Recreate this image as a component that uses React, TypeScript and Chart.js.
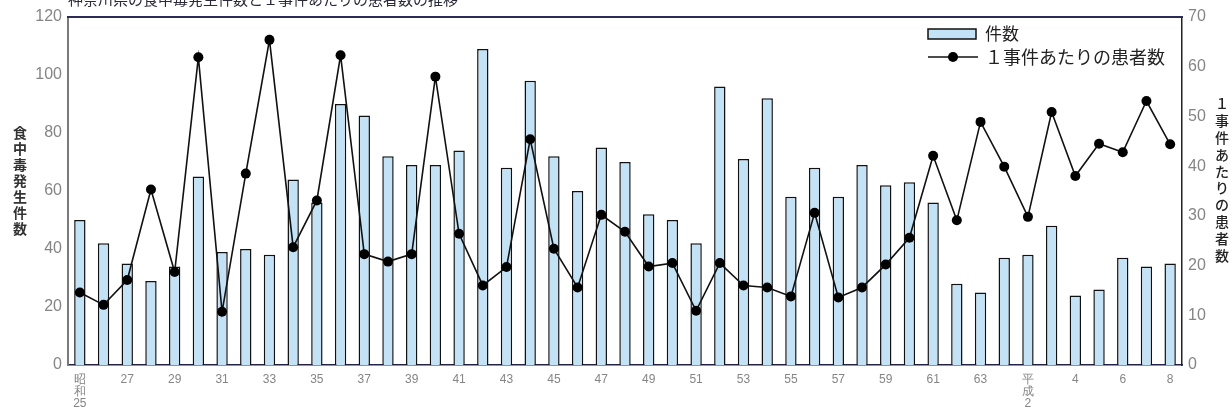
import React, { useEffect, useRef } from "react";
import { Chart, registerables } from "chart.js";

Chart.register(...registerables);

const categories = [
  "昭和25", "昭和26", "昭和27", "昭和28", "昭和29", "昭和30", "昭和31", "昭和32", "昭和33", "昭和34",
  "昭和35", "昭和36", "昭和37", "昭和38", "昭和39", "昭和40", "昭和41", "昭和42", "昭和43", "昭和44",
  "昭和45", "昭和46", "昭和47", "昭和48", "昭和49", "昭和50", "昭和51", "昭和52", "昭和53", "昭和54",
  "昭和55", "昭和56", "昭和57", "昭和58", "昭和59", "昭和60", "昭和61", "昭和62", "昭和63", "平成元",
  "平成2", "平成3", "平成4", "平成5", "平成6", "平成7", "平成8",
];

const tickLabels: (string | string[])[] = [
  ["昭", "和", "25"], "", "27", "", "29", "", "31", "", "33", "",
  "35", "", "37", "", "39", "", "41", "", "43", "",
  "45", "", "47", "", "49", "", "51", "", "53", "",
  "55", "", "57", "", "59", "", "61", "", "63", "",
  ["平", "成", "2"], "", "4", "", "6", "", "8",
];

const incidents = [
  50, 42, 35, 29, 34, 65, 39, 40, 38, 64,
  56, 90, 86, 72, 69, 69, 74, 109, 68, 98,
  72, 60, 75, 70, 52, 50, 42, 96, 71, 92,
  58, 68, 58, 69, 62, 63, 56, 28, 25, 37,
  38, 48, 24, 26, 37, 34, 35,
];

const patientsPerIncident = [
  14.6, 12.1, 17.1, 35.3, 18.7, 61.9, 10.7, 38.5, 65.4, 23.7,
  33.1, 62.3, 22.3, 20.8, 22.3, 58.0, 26.4, 16.0, 19.7, 45.4,
  23.4, 15.6, 30.2, 26.8, 19.8, 20.5, 10.9, 20.5, 16.0, 15.6,
  13.8, 30.6, 13.6, 15.6, 20.2, 25.6, 42.1, 29.1, 48.9, 39.9,
  29.8, 50.9, 38.0, 44.5, 42.8, 53.1, 44.4,
];

const TITLE = "神奈川県の食中毒発生件数と１事件あたりの患者数の推移";
const LEFT_AXIS_TITLE = "食中毒発生件数";
const RIGHT_AXIS_TITLE = "１事件あたりの患者数";
const BAR_LABEL = "件数";
const LINE_LABEL = "１事件あたりの患者数";

const BAR_FILL = "#c4e2f6";
const INK = "#111111";
const TICK_COLOR = "#858585";
const JP_FONT = "'Noto Sans CJK JP', 'Noto Sans', sans-serif";
const NUM_FONT = "'Liberation Sans', Arial, sans-serif";

const decorations = {
  id: "decorations",
  afterDraw(chart: any) {
    const { ctx, chartArea: a } = chart;
    ctx.save();

    // top frame line
    ctx.strokeStyle = "#2b2b55";
    ctx.lineWidth = 2;
    ctx.beginPath();
    ctx.moveTo(a.left - 1, a.top);
    ctx.lineTo(a.right + 1, a.top);
    ctx.stroke();

    // title (clipped at the top of the image)
    ctx.font = `15px ${JP_FONT}`;
    ctx.fillStyle = "#2a2a3a";
    ctx.textAlign = "left";
    ctx.textBaseline = "alphabetic";
    ctx.fillText(TITLE, a.left, 5);

    // left axis title (vertical)
    ctx.font = `bold 14px ${JP_FONT}`;
    ctx.fillStyle = "#333";
    ctx.textAlign = "center";
    ctx.textBaseline = "middle";
    Array.from(LEFT_AXIS_TITLE).forEach((ch, i) => ctx.fillText(ch, 20, 133 + i * 16));

    // right axis title (vertical)
    ctx.font = `500 14px ${JP_FONT}`;
    ctx.fillStyle = "#222";
    Array.from(RIGHT_AXIS_TITLE).forEach((ch, i) => ctx.fillText(ch, 1222, 104 + i * 16.8));

    // legend
    const lx = 928;
    ctx.fillStyle = BAR_FILL;
    ctx.fillRect(lx, 29, 48, 10);
    ctx.strokeStyle = INK;
    ctx.lineWidth = 1.5;
    ctx.strokeRect(lx, 29, 48, 10);
    ctx.font = `17px ${JP_FONT}`;
    ctx.fillStyle = "#222";
    ctx.textAlign = "left";
    ctx.textBaseline = "middle";
    ctx.fillText(chart.data.datasets[0].label, 985, 34);

    ctx.beginPath();
    ctx.moveTo(lx, 57);
    ctx.lineTo(lx + 50, 57);
    ctx.lineWidth = 1.5;
    ctx.stroke();
    ctx.beginPath();
    ctx.arc(lx + 25, 57, 5, 0, Math.PI * 2);
    ctx.fillStyle = "#000";
    ctx.fill();
    ctx.fillStyle = "#222";
    ctx.font = `18px ${JP_FONT}`;
    ctx.fillText(chart.data.datasets[1].label, 985, 57);

    ctx.restore();
  },
};

export default function App() {
  const ref = useRef<HTMLCanvasElement | null>(null);

  useEffect(() => {
    document.body.style.margin = "0";
    const canvas = ref.current;
    if (!canvas) return;
    const chart = new Chart(canvas, {
      type: "bar",
      data: {
        labels: categories,
        datasets: [
          {
            type: "bar",
            label: BAR_LABEL,
            data: incidents,
            yAxisID: "y",
            backgroundColor: BAR_FILL,
            borderColor: INK,
            borderWidth: 1.5,
            barPercentage: 0.48,
            categoryPercentage: 1,
            order: 2,
          },
          {
            type: "line",
            label: LINE_LABEL,
            data: patientsPerIncident,
            yAxisID: "y1",
            borderColor: INK,
            borderWidth: 1.6,
            pointRadius: 5,
            pointBackgroundColor: "#000",
            pointBorderColor: "#000",
            pointBorderWidth: 0,
            tension: 0,
            order: 1,
          },
        ] as any,
      },
      options: {
        responsive: false,
        animation: false,
        layout: { padding: { top: 17, left: 0, right: 0, bottom: 0 }, autoPadding: false } as any,
        plugins: {
          legend: { display: false },
          title: { display: false },
          tooltip: { enabled: false },
        },
        scales: {
          x: {
            grid: { display: false, drawTicks: false },
            border: { display: true, color: "#22224a", width: 1.5 },
            ticks: {
              autoSkip: false,
              maxRotation: 0,
              minRotation: 0,
              padding: 9,
              color: TICK_COLOR,
              font: { size: 12, family: NUM_FONT, lineHeight: 1.0 },
              callback: (_v: any, i: number) => tickLabels[i],
            },
            afterFit: (s: any) => {
              s.height = 418 - 365;
            },
          },
          y: {
            position: "left",
            min: 0,
            max: 120,
            grid: { display: false, drawTicks: false },
            border: { display: true, color: "#7a7a7a", width: 2 },
            ticks: {
              stepSize: 20,
              padding: 6,
              color: TICK_COLOR,
              font: { size: 16, family: NUM_FONT },
            },
            afterFit: (s: any) => {
              s.width = 68;
            },
          },
          y1: {
            position: "right",
            min: 0,
            max: 70,
            grid: { display: false, drawTicks: false },
            border: { display: true, color: "#222", width: 1.5 },
            ticks: {
              stepSize: 10,
              padding: 6,
              color: TICK_COLOR,
              font: { size: 16, family: NUM_FONT },
            },
            afterFit: (s: any) => {
              s.width = 1232 - 1182;
            },
          },
        },
      } as any,
      plugins: [decorations],
    });
    return () => chart.destroy();
  }, []);

  return (
    <div style={{ width: 1232, height: 418 }}>
      <canvas ref={ref} width={1232} height={418} />
    </div>
  );
}
